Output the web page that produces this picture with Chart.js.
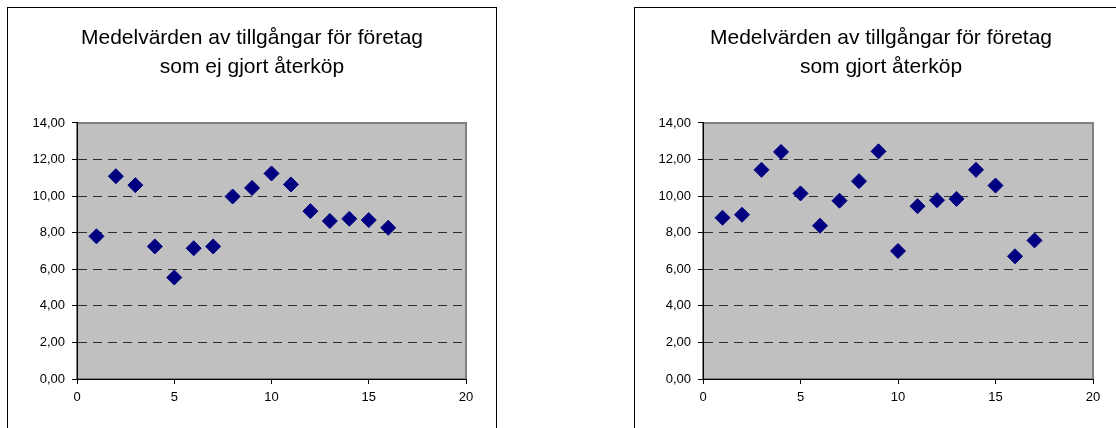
<!DOCTYPE html>
<html>
<head>
<meta charset="utf-8">
<script src="https://cdn.jsdelivr.net/npm/chart.js@4.4.0/dist/chart.umd.min.js"></script>
<style>
  html, body { margin: 0; padding: 0; background: #fff; width: 1116px; height: 428px; overflow: hidden; }
  .box { position: absolute; top: 7px; height: 460px; border: 1px solid #000; box-sizing: border-box; background: #fff; }
  #boxA { left: 7px; width: 490px; }
  #boxB { left: 634px; width: 494px; }
  canvas { display: block; }
</style>
</head>
<body>
<div class="box" id="boxA"><canvas id="chartA" width="488" height="430"></canvas></div>
<div class="box" id="boxB"><canvas id="chartB" width="492" height="430"></canvas></div>
<script>
// data
const titleA = ["Medelvärden av tillgångar för företag", "som ej gjort återköp"];
const titleB = ["Medelvärden av tillgångar för företag", "som gjort återköp"];

const xA = [1, 2, 3, 4, 5, 6, 7, 8, 9, 10, 11, 12, 13, 14, 15, 16];
const yA = [7.80, 11.09, 10.60, 7.25, 5.55, 7.15, 7.25, 9.98, 10.45, 11.24, 10.64, 9.18, 8.64, 8.76, 8.69, 8.27];

const xB = [1, 2, 3, 4, 5, 6, 7, 8, 9, 10, 11, 12, 13, 14, 15, 16, 17];
const yB = [8.82, 8.98, 11.44, 12.42, 10.15, 8.38, 9.75, 10.82, 12.45, 7.00, 9.45, 9.78, 9.85, 11.44, 10.58, 6.71, 7.58];

const xTicks = [0, 5, 10, 15, 20];
const yTicks = [0, 2, 4, 6, 8, 10, 12, 14];

const FONT = "'Liberation Sans', Arial, sans-serif";

// grey plot area with grey frame on top/right
const plotBg = {
    id: "plotBg",
    beforeDraw(chart) {
        const a = chart.chartArea;
        const ctx = chart.ctx;
        ctx.save();
        ctx.fillStyle = "#C0C0C0";
        ctx.fillRect(a.left, a.top, a.right - a.left, a.bottom - a.top);
        ctx.strokeStyle = "#808080";
        ctx.lineWidth = 2;
        ctx.strokeRect(a.left, a.top, a.right - a.left, a.bottom - a.top);
        ctx.restore();
    }
};

function makeChart(canvasId, title, xs, ys, yAxisWidth, rightGap) {
    const ctx = document.getElementById(canvasId).getContext("2d");
    return new Chart(ctx, {
        type: "scatter",
        data: {
            datasets: [{
                data: xs.map((x, i) => ({ x: x, y: ys[i] })),
                pointStyle: "rectRot",
                pointRadius: 7.5,
                pointHoverRadius: 7.5,
                backgroundColor: "#000080",
                borderColor: "#000080",
                borderWidth: 1
            }]
        },
        options: {
            responsive: false,
            animation: false,
            events: [],
            layout: { padding: 0 },
            plugins: {
                legend: { display: false },
                tooltip: { enabled: false },
                title: {
                    display: true,
                    text: title,
                    color: "#000",
                    font: { family: FONT, size: 21, weight: "normal", lineHeight: 1.357 },
                    padding: { top: 16, bottom: 42 }
                }
            },
            scales: {
                x: {
                    type: "linear",
                    min: 0,
                    max: 20,
                    afterFit(scale) { scale.height = 59; },
                    afterBuildTicks(scale) { scale.ticks = xTicks.map(v => ({ value: v })); },
                    ticks: { color: "#000", font: { family: FONT, size: 13 }, padding: 6, maxRotation: 0 },
                    grid: { drawOnChartArea: false, tickLength: 5, tickColor: "#000", tickWidth: 1 },
                    border: { color: "#000", width: 1 }
                },
                y: {
                    type: "linear",
                    min: 0,
                    max: 14,
                    afterFit(scale) { scale.width = yAxisWidth; },
                    afterBuildTicks(scale) { scale.ticks = yTicks.map(v => ({ value: v })); },
                    ticks: {
                        color: "#000",
                        font: { family: FONT, size: 13 },
                        padding: 7,
                        callback: v => v.toFixed(2).replace(".", ",")
                    },
                    grid: {
                        color: c => (c.tick && (c.tick.value === 0 || c.tick.value === 14)) ? "rgba(0,0,0,0)" : "#2e2e2e",
                        lineWidth: 1,
                        tickLength: 5,
                        tickColor: "#000",
                        tickWidth: 1
                    },
                    border: { color: "#000", width: 1, dash: [9, 6] }
                },
                // empty axis that only keeps the gap on the right side
                gap: {
                    type: "linear",
                    position: "right",
                    afterFit(scale) { scale.width = rightGap; },
                    ticks: { display: false },
                    grid: { display: false },
                    border: { display: false }
                }
            }
        },
        plugins: [plotBg]
    });
}

makeChart("chartA", titleA, xA, yA, 69, 30);
makeChart("chartB", titleB, xB, yB, 68, 34);
</script>
</body>
</html>
